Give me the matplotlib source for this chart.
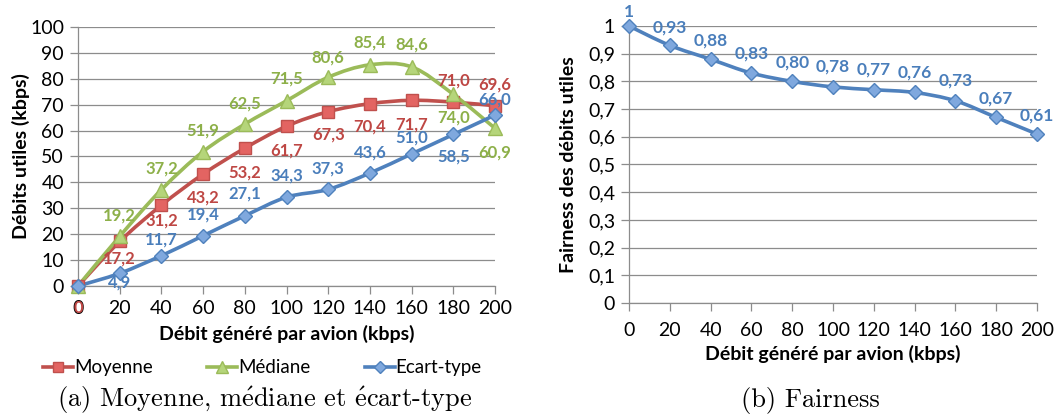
import numpy as np
import matplotlib.pyplot as plt
from matplotlib.path import Path
from matplotlib.patches import PathPatch
from matplotlib.lines import Line2D

debit = [0, 20, 40, 60, 80, 100, 120, 140, 160, 180, 200]
moyenne = [0, 17.2, 31.2, 43.2, 53.2, 61.7, 67.3, 70.4, 71.7, 71.0, 69.6]
mediane = [0, 19.2, 37.2, 51.9, 62.5, 71.5, 80.6, 85.4, 84.6, 74.0, 60.9]
ecart = [0, 4.9, 11.7, 19.4, 27.1, 34.3, 37.3, 43.6, 51.0, 58.5, 66.0]
fairness = [1, 0.93, 0.88, 0.83, 0.80, 0.78, 0.77, 0.76, 0.73, 0.67, 0.61]

# vertical offset (pixels) of each data label from its point, None = no label
off_moy = [-22, -17, -15, -23, -24, -24, -23, -23, -24, 22, 21]
off_med = [None, 21, 21, 21, 21, 22, 20, 22, 22, -23, -24]
off_ect = [None, -9, 16, 21, 22, 22, 21, 21, 16, -22, 16]
off_fair = [14, 18, 19, 20, 19, 20, 20, 20, 20, 19, 19]

RED, GREEN, BLUE = "#C0504D", "#9BBB59", "#4F81BD"
GRID = "#8C8C8C"
plt.rcParams["font.family"] = ["Lato", "DejaVu Sans"]
plt.rcParams["mathtext.fontset"] = "cm"


def smooth_line(ax, xs, ys, color):
    # Excel style smoothed line: bezier segments through the points
    p = np.column_stack([xs, ys]).astype(float)
    ext = np.vstack([p[0], p, p[-1]])
    verts = [p[0]]
    codes = [Path.MOVETO]
    for i in range(len(p) - 1):
        c1 = ext[i + 1] + (ext[i + 2] - ext[i]) / 6
        c2 = ext[i + 2] - (ext[i + 3] - ext[i + 1]) / 6
        verts += [c1, c2, ext[i + 2]]
        codes += [Path.CURVE4] * 3
    ax.add_patch(PathPatch(Path(verts, codes), fill=False, edgecolor=color,
                           lw=2.6, capstyle="round", joinstyle="round"))


def style_axes(ax):
    for s in ["top", "right"]:
        ax.spines[s].set_visible(False)
    for s in ["left", "bottom"]:
        ax.spines[s].set_color(GRID)
        ax.spines[s].set_linewidth(0.9)
    ax.grid(axis="y", color=GRID, lw=0.9)
    ax.set_axisbelow(True)
    ax.tick_params(axis="both", colors=GRID, length=6, width=0.9,
                   labelcolor="black", labelsize=14, pad=4)
    ax.set_xticks(debit)


fig = plt.figure(figsize=(10.58, 4.15), dpi=100)

# (a) moyenne / mediane / ecart-type
ax1 = fig.add_axes([78 / 1058, 1 - 286 / 415, 417 / 1058, 259 / 415])
style_axes(ax1)
ax1.set_xlim(0, 200)
ax1.set_ylim(0, 100)
ax1.set_yticks(range(0, 101, 10))

series = [
    (moyenne, RED, "#BE4744", "#E36462", "s", 9, off_moy, "Moyenne"),
    (mediane, GREEN, "#8DB049", "#B5D57A", "^", 10, off_med, "Médiane"),
    (ecart, BLUE, "#4A7EBB", "#7FA8DE", "D", 7.5, off_ect, "Ecart-type"),
]
handles = []
for vals, col, lab_col, face, mk, ms, offs, name in series:
    smooth_line(ax1, debit, vals, col)
    ax1.plot(debit, vals, ls="none", marker=mk, ms=ms, mfc=face, mec=col,
             mew=1.0, clip_on=False, zorder=5)
    for x, v, off in zip(debit, vals, offs):
        if off is None:
            continue
        txt = "0" if v == 0 else f"{v:.1f}".replace(".", ",")
        ax1.annotate(txt, (x, v), xytext=(0, off), textcoords="offset pixels",
                     ha="center", va="center", color=lab_col, fontsize=12,
                     fontweight="bold", zorder=6, annotation_clip=False)
    handles.append(Line2D([], [], color=col, lw=2.6, marker=mk, ms=ms - 1.5,
                          mfc=face, mec=col, label=name))

ax1.set_xlabel("Débit généré par avion (kbps)", fontsize=14,
               fontweight="bold", labelpad=6)
ax1.set_ylabel("Débits utiles (kbps)", fontsize=14, fontweight="bold",
               labelpad=0)
ax1.legend(handles=handles, loc="center", bbox_to_anchor=(0.442, -0.315),
           ncol=3, frameon=False, fontsize=13.5, handlelength=1.6,
           handletextpad=0.05, columnspacing=2.9, borderpad=0)

# (b) fairness
ax2 = fig.add_axes([629 / 1058, 1 - 303 / 415, 408 / 1058, 277 / 415])
style_axes(ax2)
ax2.tick_params(axis="x", pad=8)
ax2.set_xlim(0, 200)
ax2.set_ylim(0, 1)
yt = np.round(np.arange(0, 1.01, 0.1), 1)
ax2.set_yticks(yt)
ax2.set_yticklabels(["0"] + [f"{v:.1f}".replace(".", ",") for v in yt[1:-1]] + ["1"])
smooth_line(ax2, debit, fairness, BLUE)
ax2.plot(debit, fairness, ls="none", marker="D", ms=7.5, mfc="#7FA8DE",
         mec=BLUE, mew=1.0, clip_on=False, zorder=5)
for i, (x, v, off) in enumerate(zip(debit, fairness, off_fair)):
    txt = "1" if i == 0 else f"{v:.2f}".replace(".", ",")
    ax2.annotate(txt, (x, v), xytext=(0, off), textcoords="offset pixels",
                 ha="center", va="center", color="#4A7EBB", fontsize=12.5,
                 fontweight="bold", annotation_clip=False)
ax2.set_xlabel("Débit généré par avion (kbps)", fontsize=14,
               fontweight="bold", labelpad=4)
ax2.set_ylabel("Fairness des débits utiles", fontsize=14,
               fontweight="bold", labelpad=8)

# captions (Computer Modern look)
cap = dict(ha="center", va="center", fontsize=19, family="cmr10")
fig.text(265 / 1058, 1 - 400 / 415,
         r"(a) Moyenne, m$\acute{\mathrm{e}}$diane et $\acute{\mathrm{e}}$cart-type",
         **cap)
fig.text(810 / 1058, 1 - 400 / 415, "(b) Fairness", **cap)

fig.savefig("out.png", dpi=100)
